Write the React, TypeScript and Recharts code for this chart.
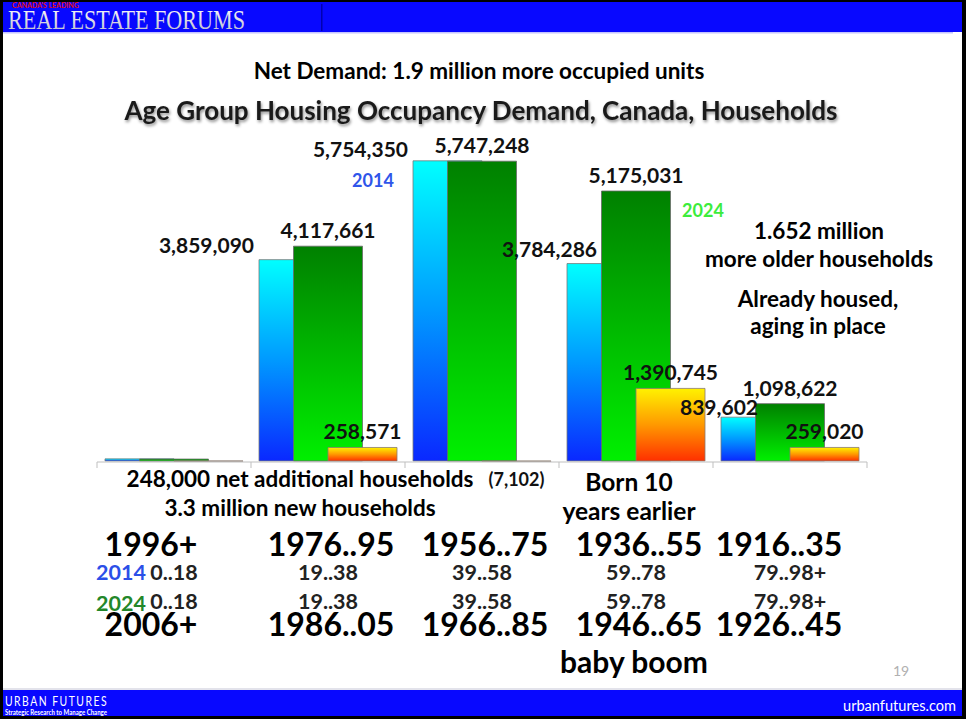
import React from 'react';
import { BarChart, Bar, XAxis, YAxis, LabelList, Cell } from 'recharts';

// cohorts born (2014 view / 2024 view) and ages
const COHORTS_2014 = ['1996+', '1976..95', '1956..75', '1936..55', '1916..35'];
const AGES = ['0..18', '19..38', '39..58', '59..78', '79..98+'];
const COHORTS_2024 = ['2006+', '1986..05', '1966..85', '1946..65', '1926..45'];

// households
const HH_2014 = [40000, 3859090, 5754350, 3784286, 839602];
const HH_2024 = [36531, 4117661, 5747248, 5175031, 1098622];
const HH_CHANGE = [-3469, 258571, -7102, 1390745, 259020];

const W = 966;
const H = 719;
const PLOT_LEFT = 97;
const PLOT_RIGHT = 867;
const BAND = (PLOT_RIGHT - PLOT_LEFT) / AGES.length;
const FONT = 'Lato, "Open Sans", sans-serif';

// manual nudges for the 2014 value labels (they sit left of the bars)
const LABEL_2014_DX = [0, -5, -5, 30, 37];
const LABEL_2014_DY = [0, -7, -4, -7, -2];

const data = AGES.map((age, i) => ({
  age,
  hh2014: HH_2014[i],
  hh2024: HH_2024[i],
  change: HH_CHANGE[i],
}));

const fmt = (v: number) =>
  v < 0 ? `(${Math.abs(v).toLocaleString('en-US')})` : v.toLocaleString('en-US');

const labelStyle = { fontFamily: FONT, fontWeight: 700, fontSize: 21, fill: '#111' };

function box(p: any) {
  const vb = p.viewBox && p.viewBox.width !== undefined ? p.viewBox : p;
  const y0 = Math.min(vb.y, vb.y + vb.height);
  const y1 = Math.max(vb.y, vb.y + vb.height);
  return { x: vb.x, w: vb.width, top: y0, bottom: y1 };
}

function Label2014(p: any) {
  const { index, value } = p;
  if (index === 0) return null;
  const b = box(p);
  return (
    <text x={b.x + LABEL_2014_DX[index]} y={b.top + LABEL_2014_DY[index]} textAnchor='end' style={labelStyle}>
      {fmt(value)}
    </text>
  );
}

function Label2024(p: any) {
  const { index, value } = p;
  if (index === 0) return null;
  const b = box(p);
  return (
    <text x={b.x + b.w / 2} y={b.top - 8} textAnchor='middle' style={labelStyle}>
      {fmt(value)}
    </text>
  );
}

function LabelChange(p: any) {
  const { index, value } = p;
  if (index === 0) return null;
  const b = box(p);
  const y = value < 0 ? b.bottom + 25 : b.top - 8.5;
  return (
    <text x={b.x + b.w / 2} y={y} textAnchor='middle' style={{ ...labelStyle, fontSize: value < 0 ? 18 : 21 }}>
      {fmt(value)}
    </text>
  );
}

function CohortTick(p: any) {
  const { x, y, index } = p;
  const i = index;
  const dxYear = i === 0 ? -23 : i === AGES.length - 1 ? -11 : 3;
  const big = { fontFamily: FONT, fontWeight: 700, fontSize: 32, fill: '#000' };
  const small = { fontFamily: FONT, fontWeight: 700, fontSize: 21.5, fill: '#222' };
  return (
    <g>
      <line x1={x - BAND / 2} y1={y} x2={x - BAND / 2} y2={y + 6} stroke='#bfbfbf' />
      {i === AGES.length - 1 && (
        <line x1={x + BAND / 2} y1={y} x2={x + BAND / 2} y2={y + 6} stroke='#bfbfbf' />
      )}
      <text x={x + dxYear} y={y + 94} textAnchor='middle' style={big}>{COHORTS_2014[i]}</text>
      <text x={x} y={y + 118} textAnchor='middle' style={small}>{AGES[i]}</text>
      <text x={x} y={y + 147} textAnchor='middle' style={small}>{AGES[i]}</text>
      {i === 0 && (
        <>
          <text x={x - 28} y={y + 118} textAnchor='end' style={{ ...small, fill: '#2b4fe8' }}>2014</text>
          <text x={x - 28} y={y + 149} textAnchor='end' style={{ ...small, fill: '#23872a' }}>2024</text>
        </>
      )}
      <text x={x + dxYear} y={y + 174} textAnchor='middle' style={big}>{COHORTS_2024[i]}</text>
    </g>
  );
}

function Slide() {
  const t = { fontFamily: FONT, fontWeight: 700, fill: '#000' };
  return (
    <svg width={W} height={H} style={{ position: 'absolute', left: 0, top: 0, pointerEvents: 'none' }}>
      <defs>
        <linearGradient id='silver' x1='0' y1='0' x2='0' y2='1'>
          <stop offset='0%' stopColor='#ffffff' />
          <stop offset='100%' stopColor='#b8b8c8' />
        </linearGradient>
      </defs>
      {/* frame */}
      <rect x={0} y={0} width={W} height={2} fill='#000' />
      <rect x={0} y={0} width={3} height={H} fill='#000' />
      <rect x={962} y={0} width={4} height={H} fill='#000' />
      <rect x={0} y={716} width={W} height={3} fill='#000' />
      {/* header */}
      <rect x={3} y={2} width={959} height={30} fill='#0808ff' />
      <rect x={321} y={4} width={1.5} height={27} fill='#0000b0' />
      <rect x={3} y={32} width={950} height={1.5} fill='#c4c4ff' />
      <text x={12} y={8} style={{ fontFamily: FONT, fontWeight: 700, fontSize: 7, fill: '#e01010' }}>CANADA'S LEADING</text>
      <text x={8} y={29} textLength={237} lengthAdjust='spacingAndGlyphs'
        style={{ fontFamily: '"Liberation Serif", serif', fontSize: 27, fill: 'url(#silver)' }}>
        REAL ESTATE FORUMS
      </text>
      {/* footer */}
      <rect x={3} y={688.5} width={959} height={1} fill='#c8c8d8' />
      <rect x={3} y={690} width={959} height={26} fill='#0808ff' />
      <text x={5} y={706} textLength={103} lengthAdjust='spacingAndGlyphs'
        style={{ fontFamily: FONT, fontSize: 14, letterSpacing: 2, fill: '#fff' }}>
        URBAN FUTURES
      </text>
      <text x={5} y={715} textLength={102} lengthAdjust='spacingAndGlyphs'
        style={{ fontFamily: FONT, fontWeight: 700, fontSize: 6.5, fill: '#fff' }}>
        Strategic Research to Manage Change
      </text>
      <text x={843} y={711} textLength={113} lengthAdjust='spacingAndGlyphs'
        style={{ fontFamily: FONT, fontSize: 14.5, fill: '#fff' }}>
        urbanfutures.com
      </text>
      <text x={893} y={676} style={{ fontFamily: FONT, fontSize: 14, fill: '#b0b0b0' }}>19</text>

      {/* titles */}
      <text x={479} y={79} textAnchor='middle' style={{ ...t, fontSize: 22.5 }}>
        Net Demand: 1.9 million more occupied units
      </text>
      <text x={481} y={120} textAnchor='middle'
        style={{ ...t, fontSize: 26, fill: '#1a1a1a', filter: 'drop-shadow(1px 2px 1.5px rgba(0,0,0,0.45))' }}>
        Age Group Housing Occupancy Demand, Canada, Households
      </text>

      {/* annotations */}
      <text x={373} y={187} textAnchor='middle' style={{ ...t, fontSize: 18, fill: '#2f55ea' }}>2014</text>
      <text x={703} y={217} textAnchor='middle' style={{ ...t, fontSize: 18, fill: '#3cec3c' }}>2024</text>
      <text x={819} y={239} textAnchor='middle' style={{ ...t, fontSize: 22.5 }}>1.652 million</text>
      <text x={819} y={267} textAnchor='middle' style={{ ...t, fontSize: 22.5 }}>more older households</text>
      <text x={818} y={307} textAnchor='middle' style={{ ...t, fontSize: 22.5 }}>Already housed,</text>
      <text x={818} y={334} textAnchor='middle' style={{ ...t, fontSize: 22.5 }}>aging in place</text>
      <text x={300} y={487} textAnchor='middle' style={{ ...t, fontSize: 22.5 }}>248,000 net additional households</text>
      <text x={300} y={516} textAnchor='middle' style={{ ...t, fontSize: 22.5 }}>3.3 million new households</text>
      <text x={629} y={491} textAnchor='middle' style={{ ...t, fontSize: 24.5 }}>Born 10</text>
      <text x={629} y={520} textAnchor='middle' style={{ ...t, fontSize: 24.5 }}>years earlier</text>
      <text x={634} y={673} textAnchor='middle' style={{ ...t, fontSize: 30 }}>baby boom</text>
    </svg>
  );
}

export default function App() {
  return (
    <div style={{ position: 'fixed', left: 0, top: 0, width: W, height: H, background: '#fff', overflow: 'hidden' }}>
      <div style={{ position: 'absolute', left: 0, top: 0 }}>
        <BarChart
          width={W}
          height={H}
          data={data}
          margin={{ top: 148, right: W - PLOT_RIGHT, bottom: 227, left: PLOT_LEFT }}
          barSize={69}
          barGap={-34.5}
        >
          <defs>
            <linearGradient id='g2014' x1='0' y1='0' x2='0' y2='1'>
              <stop offset='0%' stopColor='#00ffff' />
              <stop offset='50%' stopColor='#0099ff' />
              <stop offset='100%' stopColor='#0a28ff' />
            </linearGradient>
            <linearGradient id='g2024' x1='0' y1='0' x2='0' y2='1'>
              <stop offset='0%' stopColor='#008000' />
              <stop offset='100%' stopColor='#00f000' />
            </linearGradient>
            <linearGradient id='gChange' x1='0' y1='0' x2='0' y2='1'>
              <stop offset='0%' stopColor='#fff200' />
              <stop offset='50%' stopColor='#ff9900' />
              <stop offset='100%' stopColor='#ff3000' />
            </linearGradient>
          </defs>
          <XAxis
            dataKey='age'
            height={30}
            interval={0}
            tickSize={0}
            tickMargin={0}
            tickLine={false}
            axisLine={{ stroke: '#bfbfbf' }}
            tick={<CohortTick />}
          />
          <YAxis hide type='number' domain={[-20000, 6000000]} allowDataOverflow />
          <Bar dataKey='hh2014' fill='url(#g2014)' stroke='#7a7a7a' strokeWidth={0.8} isAnimationActive={false}>
            <LabelList dataKey='hh2014' content={<Label2014 />} />
          </Bar>
          <Bar dataKey='hh2024' fill='url(#g2024)' stroke='#6a6a6a' strokeWidth={0.8} isAnimationActive={false}>
            <LabelList dataKey='hh2024' content={<Label2024 />} />
          </Bar>
          <Bar dataKey='change' stroke='#8a7a70' strokeWidth={0.8} isAnimationActive={false}>
            {HH_CHANGE.map((v, i) => (
              <Cell key={i} fill={v < 0 ? '#8b5e55' : 'url(#gChange)'} />
            ))}
            <LabelList dataKey='change' content={<LabelChange />} />
          </Bar>
        </BarChart>
      </div>
      <Slide />
    </div>
  );
}
